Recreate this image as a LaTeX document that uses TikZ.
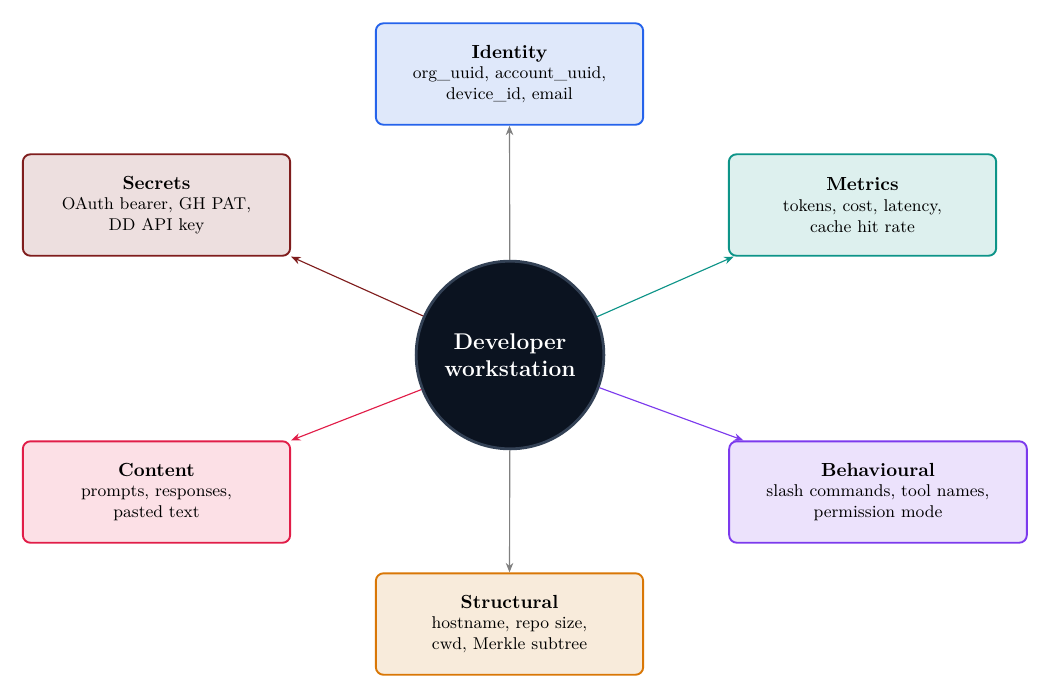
\documentclass[tikz,border=0pt]{standalone}
\usetikzlibrary{arrows.meta}
\definecolor{idB}{HTML}{2563EB}\definecolor{idF}{HTML}{DFE8FA}
\definecolor{seB}{HTML}{7F1D1D}\definecolor{seF}{HTML}{EDDFDF}
\definecolor{meB}{HTML}{0D9488}\definecolor{meF}{HTML}{DDF0EE}
\definecolor{coB}{HTML}{E11D48}\definecolor{coF}{HTML}{FCE0E6}
\definecolor{beB}{HTML}{7C3AED}\definecolor{beF}{HTML}{ECE2FC}
\definecolor{stB}{HTML}{D97706}\definecolor{stF}{HTML}{F8EBDB}
\definecolor{ceF}{HTML}{0B1320}\definecolor{ceB}{HTML}{334155}
\begin{document}
\begin{tikzpicture}[x=0.5275pt,y=-0.5275pt,
  box/.style={draw=#1B,fill=#1F,line width=1pt,rounded corners=4pt,minimum height=53.5pt,align=center,inner sep=2pt,font=\small},
  arr/.style={draw=#1B,line width=0.6pt,-{Stealth[length=5pt,width=4pt]}}]
\useasboundingbox (0,0) rectangle (1061,698);
\node[box=id,minimum width=141pt] (id) at (509.5,74) {\textbf{\normalsize Identity}\\org\_uuid, account\_uuid,\\device\_id, email};
\node[box=se,minimum width=141pt] (se) at (156.5,205) {\textbf{\normalsize Secrets}\\OAuth bearer, GH PAT,\\DD API key};
\node[box=me,minimum width=141pt] (me) at (862.5,205) {\textbf{\normalsize Metrics}\\tokens, cost, latency,\\cache hit rate};
\node[box=co,minimum width=141pt] (co) at (156.5,492) {\textbf{\normalsize Content}\\prompts, responses,\\pasted text};
\node[box=be,minimum width=157pt] (be) at (878,492) {\textbf{\normalsize Behavioural}\\slash commands, tool names,\\permission mode};
\node[box=st,minimum width=141pt] (st) at (509.5,624) {\textbf{\normalsize Structural}\\hostname, repo size,\\cwd, Merkle subtree};
\node[circle,draw=ceB,fill=ceF,line width=1.5pt,minimum size=99pt,align=center,text=white,font=\large\bfseries] (c) at (510,355) {Developer\\workstation};
\draw[arr=id,draw=gray] (c) -- (id.south);
\draw[arr=st,draw=gray] (c) -- (st.north);
\draw[arr=se] (c) -- (se.south east);
\draw[arr=me] (c) -- ([xshift=3pt]me.south west);
\draw[arr=co] (c) -- (co.north east);
\draw[arr=be] (c) -- ([xshift=8pt]be.north west);
\end{tikzpicture}
\end{document}
